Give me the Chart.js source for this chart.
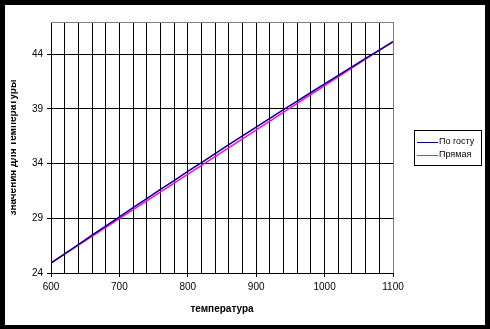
<!DOCTYPE html>
<html>
<head>
<meta charset="utf-8">
<script src="https://cdn.jsdelivr.net/npm/chart.js@4/dist/chart.umd.min.js"></script>
<style>
  html, body { margin: 0; padding: 0; background: #fff; }
  #wrap { width: 490px; height: 329px; }
</style>
</head>
<body>
<div id="wrap"><canvas id="emf" width="490" height="329"></canvas></div>
<script>
// table values (mV) every 20 degrees
const temps = [600, 620, 640, 660, 680, 700, 720, 740, 760, 780, 800, 820, 840,
               860, 880, 900, 920, 940, 960, 980, 1000, 1020, 1040, 1060, 1080, 1100]
const gostValues = [24.91, 25.75, 26.60, 27.45, 28.29, 29.13, 29.97, 30.80, 31.63, 32.45,
                    33.28, 34.09, 34.91, 35.72, 36.52, 37.33, 38.12, 38.92, 39.71, 40.49,
                    41.28, 42.05, 42.83, 43.60, 44.36, 45.12]
// straight line through the ends
const lineTemps = [600, 1100]
const lineValues = [24.93, 45.17]

const yTicks = [24, 29, 34, 39, 44]
const seriesNames = ['По госту', 'Прямая']
const xTitle = 'температура'
const yTitle = 'значения для температуры'

const font = 'Liberation Sans, Arial, sans-serif'

// boxed legend on the right
const boxLegend = {
    id: 'boxLegend',
    afterDraw(chart) {
        const ctx = chart.ctx
        ctx.save()
        ctx.strokeStyle = '#000'
        ctx.lineWidth = 1
        ctx.strokeRect(414.5, 130.5, 67, 35)
        ctx.font = '9px ' + font
        ctx.textBaseline = 'middle'
        chart.data.datasets.forEach((ds, i) => {
            const y = 141.5 + i * 13.5
            ctx.strokeStyle = ds.borderColor
            ctx.beginPath()
            ctx.moveTo(417, Math.round(y) + 0.5)
            ctx.lineTo(438, Math.round(y) + 0.5)
            ctx.stroke()
            ctx.fillStyle = '#000'
            ctx.fillText(ds.label, 439, y)
        })
        ctx.restore()
    }
}

// grey top edge of the plot and the black outer frame
const frame = {
    id: 'frame',
    afterDraw(chart) {
        const ctx = chart.ctx
        const a = chart.chartArea
        ctx.save()
        ctx.strokeStyle = '#808080'
        ctx.lineWidth = 1
        ctx.beginPath()
        ctx.moveTo(a.left, a.top + 0.5)
        ctx.lineTo(a.right + 1, a.top + 0.5)
        ctx.stroke()
        // the y title is cut at the left edge
        ctx.fillStyle = '#fff'
        ctx.fillRect(5, 5, 6, 320)
        ctx.fillStyle = '#000'
        ctx.fillRect(0, 0, 490, 5)
        ctx.fillRect(0, 0, 5, 329)
        ctx.fillRect(485, 0, 5, 329)
        ctx.fillRect(0, 325, 490, 4)
        ctx.restore()
    }
}

new Chart(document.getElementById('emf'), {
    type: 'line',
    data: {
        datasets: [{
            label: seriesNames[0],
            data: temps.map((t, i) => ({ x: t, y: gostValues[i] })),
            borderColor: '#000080',
            borderWidth: 1.5,
            pointRadius: 0,
            fill: false,
            tension: 0
        }, {
            label: seriesNames[1],
            data: lineTemps.map((t, i) => ({ x: t, y: lineValues[i] })),
            borderColor: '#ff00ff',
            borderWidth: 1.5,
            pointRadius: 0,
            fill: false,
            tension: 0
        }]
    },
    options: {
        responsive: false,
        animation: false,
        devicePixelRatio: 1,
        layout: { padding: { left: 0, top: 22, right: 97, bottom: 0 } },
        plugins: {
            legend: { display: false },
            tooltip: { enabled: false }
        },
        scales: {
            x: {
                type: 'linear',
                min: 600,
                max: 1100,
                ticks: {
                    stepSize: 20,
                    color: '#000',
                    font: { family: font, size: 10 },
                    padding: 4,
                    maxRotation: 0,
                    autoSkip: false,
                    callback: v => (v % 100 === 0 ? v : '')
                },
                grid: {
                    color: c => (c.tick && c.tick.value === 1100 ? '#808080' : '#000'),
                    tickColor: c => (c.tick && c.tick.value % 100 === 0 ? '#000' : 'rgba(0,0,0,0)'),
                    tickLength: 4,
                    lineWidth: 1
                },
                border: { display: true, color: '#000', width: 1 },
                title: {
                    display: true,
                    text: xTitle,
                    color: '#000',
                    font: { family: font, size: 10, weight: 'bold' },
                    padding: { top: 0, bottom: 14 }
                },
                afterFit: s => { s.height = 56 }
            },
            y: {
                type: 'linear',
                min: 24,
                max: 46.93,
                afterBuildTicks: s => { s.ticks = yTicks.map(v => ({ value: v })) },
                ticks: {
                    color: '#000',
                    font: { family: font, size: 10 },
                    padding: 4
                },
                grid: { color: '#000', tickLength: 4, lineWidth: 1 },
                border: { display: true, color: '#000', width: 1 },
                title: {
                    display: true,
                    text: yTitle,
                    color: '#000',
                    font: { family: font, size: 10, weight: 'bold' },
                    padding: { top: 7, bottom: 0 }
                },
                afterFit: s => { s.width = 51 }
            }
        }
    },
    plugins: [boxLegend, frame]
})
</script>
</body>
</html>
